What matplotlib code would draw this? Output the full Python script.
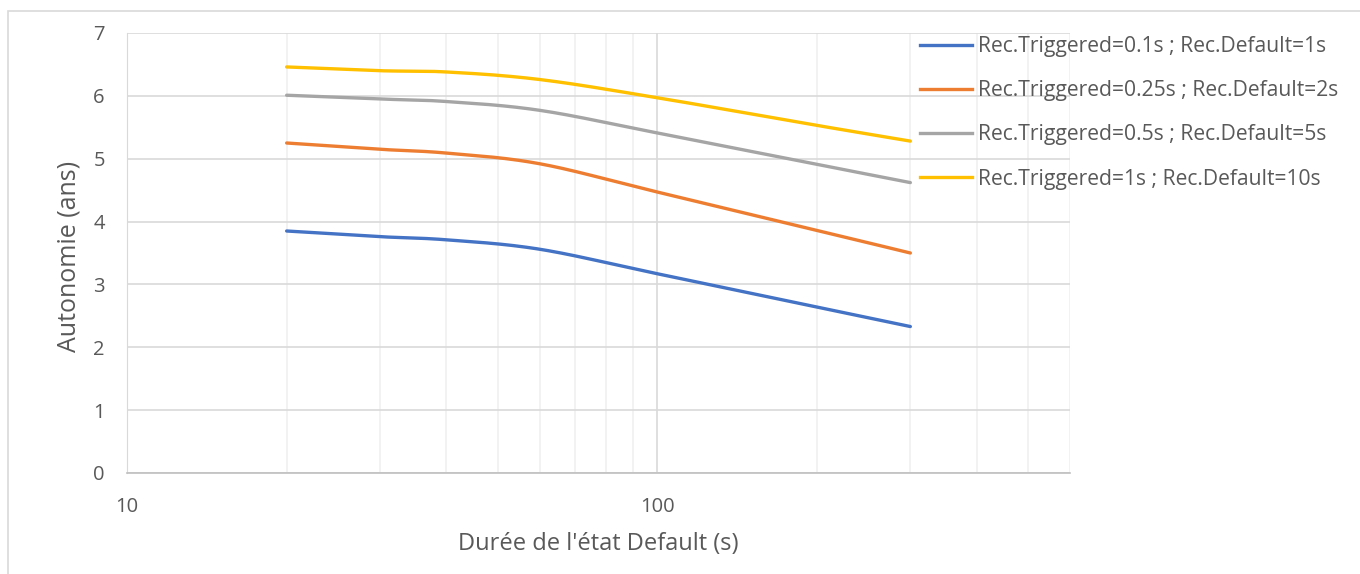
import matplotlib.pyplot as plt
import numpy as np
from matplotlib.lines import Line2D
from matplotlib.patches import Rectangle
from matplotlib.ticker import FixedLocator, NullFormatter

plt.rcParams['font.family'] = ['Open Sans', 'DejaVu Sans']

# durée de l'état Default (s)
duree = [20, 30, 40, 60, 100, 200, 300]

# autonomie (ans) pour chaque configuration
auto_01 = [3.85, 3.76, 3.71, 3.56, 3.17, 2.64, 2.33]
auto_025 = [5.25, 5.15, 5.09, 4.92, 4.47, 3.86, 3.50]
auto_05 = [6.01, 5.95, 5.91, 5.77, 5.41, 4.91, 4.62]
auto_1 = [6.46, 6.40, 6.38, 6.26, 5.97, 5.53, 5.28]

labels = ['Rec.Triggered=0.1s ; Rec.Default=1s',
          'Rec.Triggered=0.25s ; Rec.Default=2s',
          'Rec.Triggered=0.5s ; Rec.Default=5s',
          'Rec.Triggered=1s ; Rec.Default=10s']
couleurs = ['#4472C4', '#ED7D31', '#A5A5A5', '#FFC000']

gris_texte = '#595959'
xmin, xmax = 10, 600
ymin, ymax = 0, 7

fig = plt.figure(figsize=(13.6, 5.74), dpi=100)
ax = fig.add_axes([127/1360, 1-473/574, (1070-127)/1360, (473-33)/574])

# largeur / hauteur de la zone de tracé en pixels (pour le lissage)
W = 1070 - 127
H = 473 - 33


def lisse(xs, ys, n=40):
    # courbe lissée : Bézier cubique, tension 1/6, en coordonnées écran
    u = (np.log10(xs) - np.log10(xmin)) / (np.log10(xmax) - np.log10(xmin)) * W
    v = (np.array(ys) - ymin) / (ymax - ymin) * H
    P = np.column_stack([u, v])
    out = [P[0]]
    for i in range(len(P) - 1):
        p0 = P[i - 1] if i > 0 else P[i]
        p1, p2 = P[i], P[i + 1]
        p3 = P[i + 2] if i + 2 < len(P) else P[i + 1]
        c1 = p1 + (p2 - p0) / 6
        c2 = p2 - (p3 - p1) / 6
        t = np.linspace(0, 1, n)[1:, None]
        seg = (1-t)**3*p1 + 3*(1-t)**2*t*c1 + 3*(1-t)*t**2*c2 + t**3*p2
        out.extend(seg)
    out = np.array(out)
    xx = 10 ** (out[:, 0] / W * (np.log10(xmax) - np.log10(xmin)) + np.log10(xmin))
    yy = out[:, 1] / H * (ymax - ymin) + ymin
    return xx, yy


series = [auto_01, auto_025, auto_05, auto_1]
for ys, c in zip(series, couleurs):
    xx, yy = lisse(duree, ys)
    ax.plot(xx, yy, color=c, lw=2.4, solid_capstyle='round', zorder=3)

ax.set_xscale('log')
ax.set_xlim(xmin, xmax)
ax.set_ylim(ymin, ymax)

ax.xaxis.set_major_locator(FixedLocator([10, 100]))
ax.xaxis.set_minor_locator(FixedLocator([20, 30, 40, 50, 60, 70, 80, 90, 200, 300, 400, 500]))
ax.xaxis.set_minor_formatter(NullFormatter())
ax.set_xticks([10, 100], ['10', '100'])
ax.set_yticks(range(0, 8))

ax.grid(axis='y', color='#d9d9d9', lw=1.2, zorder=0)
ax.grid(axis='x', which='minor', color='#f0f0f0', lw=1.2, zorder=0)
ax.axvline(100, color='#d9d9d9', lw=1.2, zorder=0)
ax.axvline(600, color='#f0f0f0', lw=1.2, zorder=0)

for s in ['top', 'right']:
    ax.spines[s].set_visible(False)
ax.spines['left'].set_color('#d9d9d9')
ax.spines['bottom'].set_color('#bfbfbf')
ax.spines['bottom'].set_linewidth(1.2)
ax.tick_params(which='both', length=0, colors=gris_texte, labelsize=14.5)
ax.tick_params(axis='x', pad=17)
ax.tick_params(axis='y', pad=16)

ax.set_xlabel("Durée de l'état Default (s)", color=gris_texte, fontsize=17, labelpad=11)
ax.set_ylabel('Autonomie (ans)', color=gris_texte, fontsize=18)
ax.yaxis.set_label_coords(-0.048, 0.493)

poignees = [Line2D([], [], color=c, lw=2.4) for c in couleurs]
leg = fig.legend(poignees, labels, loc='upper left', bbox_to_anchor=(920/1360, 1-36/574),
                 frameon=False, fontsize=15.2, handlelength=2.45, handletextpad=0.28,
                 labelspacing=1.1, borderpad=0, borderaxespad=0, labelcolor=gris_texte)

# cadre du graphique
fig.patches.append(Rectangle((8/1360, -0.05), 1.1, 1-11/574+0.05, transform=fig.transFigure,
                             fill=False, edgecolor='#d9d9d9', lw=1.2, zorder=-1))

fig.savefig('out.png', dpi=100)
